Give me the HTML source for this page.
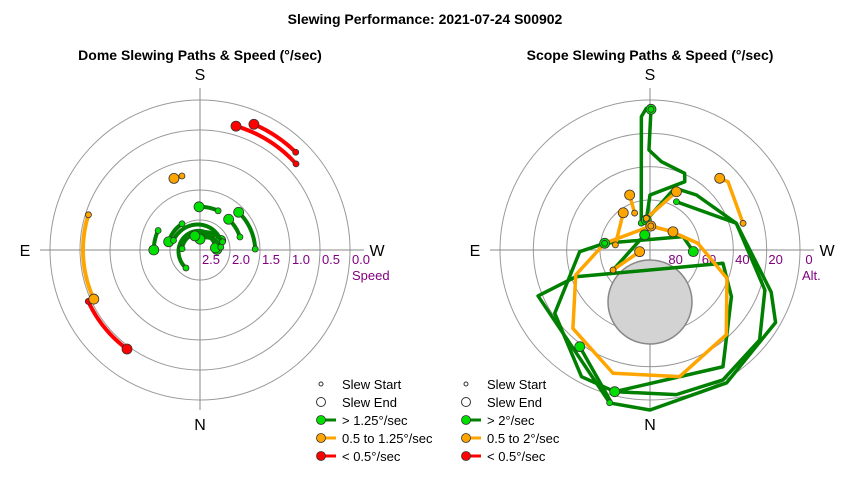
<!DOCTYPE html>
<html><head><meta charset="utf-8"><style>
body{margin:0;background:#fff}
svg{display:block;font-family:"Liberation Sans",Arial,sans-serif}
</style></head><body>
<svg id="chart" width="850" height="480" viewBox="0 0 850 480">
<rect width="850" height="480" fill="#fff"/>
<text x="425" y="24" text-anchor="middle" font-size="14" font-weight="bold">Slewing Performance: 2021-07-24 S00902</text>
<text x="200" y="60" text-anchor="middle" font-size="14" font-weight="bold">Dome Slewing Paths &amp; Speed (°/sec)</text>
<text x="650" y="60" text-anchor="middle" font-size="14" font-weight="bold">Scope Slewing Paths &amp; Speed (°/sec)</text>
<g id="dome"></g>
<g id="scope"></g>
<g id="legends"></g>
</svg>
<script>
// ---- Dome data: azimuth start/end (deg), speed start/end (deg/sec), category ----
const domeAzStart = [228.1,224.4,65.3, 107.5,166.3, 204.8,269,252,115,38,145.6,110,94,262,250];
const domeAzEnd   = [196.2,203.2,36.4, 65.2,160, 178.7,225.7,223,90,268,104.7,245,262,180,160];
const domeSpStart = [0.85,0.72,0.95, 1.05,1.73, 2.28,2.08,2.3,2.23,2.62,2.47,2.53,2.7,2.65,2.6];
const domeSpEnd   = [0.85,0.72,0.95, 1.05,1.73, 2.28,2.1,2.3,2.23,2.72,2.46,2.62,2.74,2.82,2.75];
const domeCat     = ['r','r','r','o','o','g','g','g','g','g','g','g','g','g','g'];
const domeRingSpeeds = [2.5,2.0,1.5,1.0,0.5];
const domeTickLabels = ['2.5','2.0','1.5','1.0','0.5','0.0'];
const domeTickSpeeds = [2.5,2.0,1.5,1.0,0.5,0.0];

// ---- Scope data: path azimuths & altitudes (deg), category ----
const scopeAz = [
 [162,176.3,178.5,180.4],
 [180.4,179.4,187.4,204.3,207,180,173],
 [173,201.8,220.2,252.8,289.2,309.4,330.7,349.7,14,28.4,56.4,88.6,98.4],
 [208.7,252.8,289.2,300,330,360,14,36],
 [14.8,67.7,70.2,280.3,299.8,328,14],
 [98.4,248,272],
 [61.6,160.5],
 [182,98.4,71.4,44.5,16.7,346.8,318,290.2,262,229.5,182],
 [254,228.8,224.2],
 [173.5,204.4],
 [157.4,159.7],
 [98.4,144.3],
 [182,231.5],
 [61.6,81]
];
const scopeAlt = [
 [73,9.8,5,5.6],
 [5.6,30,36.6,39.5,44,57,71.9],
 [71.9,50,46.8,35.8,17,4.9,0.6,1.8,2.4,3.6,21.4,47.8,62.5],
 [57,35.8,13,3,-2,-6,-4.8,18.3],
 [-4.8,17.4,42.6,45.5,33.7,7.4,2.4],
 [62.5,68.6,64],
 [64.8,80.4],
 [75.6,62.5,43,24,12.8,12,21.6,40.8,61,73,75.6],
 [31.9,27.8,30],
 [70.9,51.6],
 [66,54.8],
 [69,62.5],
 [75.6,72.4],
 [64.8,83.7]
];
const scopeCat = ['g','g','g','g','g','g','g','o','o','o','o','o','o','o'];
const scopeRingAlts = [60,40,20,0];
const scopeTickLabels = ['80','60','40','20','0'];
const scopeTickAlts = [80,60,40,20,0];

const NS='http://www.w3.org/2000/svg';
const lineCol={g:'#008000',o:'#FFA500',r:'#FF0000'};
const dotCol={g:'#00E000',o:'#FFA500',r:'#FF0000'};
function mk(parent,tag,attrs){const e=document.createElementNS(NS,tag);for(const k in attrs)e.setAttribute(k,attrs[k]);parent.appendChild(e);return e;}

function polarXY(cx,cy,az,r){const a=az*Math.PI/180;return [cx-r*Math.sin(a),cy+r*Math.cos(a)];}

function drawFrame(g,cx,cy,rings,outerR){
  rings.forEach(r=>{const c=mk(g,'circle',{cx:cx,cy:cy,r:r,fill:'none',stroke:'#999','stroke-width':1});
    
    });
  const h=mk(g,'line',{x1:cx-outerR-10,y1:cy,x2:cx+outerR+14,y2:cy,stroke:'#888'});
  
  
  const v=mk(g,'line',{x1:cx,y1:cy-outerR-12,x2:cx,y2:cy+outerR+10,stroke:'#888'});
  
  
  [['S',cx,cy-170],['N',cx,cy+180],['E',cx-175,cy+6],['W',cx+177,cy+6]].forEach(d=>{
    const t=mk(g,'text',{x:d[1],y:d[2],'text-anchor':'middle','font-size':16});t.textContent=d[0];
    
    });
}

// ---- Dome ----
(function(){
  const g=document.getElementById('dome');const cx=200,cy=250;
  const rOf=s=>(3-s)*60;
  drawFrame(g,cx,cy,domeRingSpeeds.map(rOf),150);
  domeTickLabels.forEach((l,i)=>{const t=mk(g,'text',{x:cx+rOf(domeTickSpeeds[i])-19,y:cy+14,'text-anchor':'middle','font-size':13,fill:'#800080'});t.textContent=l;
    
    });
  const sp=mk(g,'text',{x:cx+152,y:cy+30,'font-size':13,fill:'#800080'});sp.textContent='Speed';
  
  
  domeAzStart.forEach((a0,i)=>{
    const a1=domeAzEnd[i],r0=rOf(domeSpStart[i]),r1=rOf(domeSpEnd[i]);const n=30;let pts=[];
    for(let k=0;k<=n;k++){const t=k/n;pts.push(polarXY(cx,cy,a0+(a1-a0)*t,r0+(r1-r0)*t).join(','));}
    const c=domeCat[i];
    const p=mk(g,'polyline',{points:pts.join(' '),fill:'none',stroke:lineCol[c],'stroke-width':4,'stroke-linecap':'round'});
    
    
    const s=polarXY(cx,cy,a0,r0),e=polarXY(cx,cy,a1,r1);
    const sd=mk(g,'circle',{cx:s[0],cy:s[1],r:3,fill:dotCol[c],stroke:'#333','stroke-width':0.8});
    
    
    const ed=mk(g,'circle',{cx:e[0],cy:e[1],r:5,fill:dotCol[c],stroke:'#333','stroke-width':0.8});
    
    
  });
})();

// ---- Scope ----
(function(){
  const g=document.getElementById('scope');const cx=650,cy=250;
  const rOf=a=>(90-a)/90*150;
  drawFrame(g,cx,cy,scopeRingAlts.map(rOf),150);
  const z=mk(g,'circle',{cx:650,cy:302,r:42,fill:'#d3d3d3',stroke:'#888','stroke-width':1.5});
  
  
  scopeTickLabels.forEach((l,i)=>{const t=mk(g,'text',{x:cx+rOf(scopeTickAlts[i])+9,y:cy+14,'text-anchor':'middle','font-size':13,fill:'#800080'});t.textContent=l;
    
    });
  const al=mk(g,'text',{x:cx+152,y:cy+30,'font-size':13,fill:'#800080'});al.textContent='Alt.';
  
  
  scopeAz.forEach((azs,i)=>{
    const alts=scopeAlt[i],c=scopeCat[i];
    const pts=azs.map((a,k)=>polarXY(cx,cy,a,rOf(alts[k])));
    const p=mk(g,'polyline',{points:pts.map(q=>q.join(',')).join(' '),fill:'none',stroke:lineCol[c],'stroke-width':3.5,'stroke-linejoin':'round'});
    
    
  });
  scopeAz.forEach((azs,i)=>{
    const alts=scopeAlt[i],c=scopeCat[i];
    const s=polarXY(cx,cy,azs[0],rOf(alts[0])),e=polarXY(cx,cy,azs[azs.length-1],rOf(alts[alts.length-1]));
    const sd=mk(g,'circle',{cx:s[0],cy:s[1],r:3,fill:dotCol[c],stroke:'#333','stroke-width':0.8});
    
    
    const ed=mk(g,'circle',{cx:e[0],cy:e[1],r:5,fill:dotCol[c],stroke:'#333','stroke-width':0.8});
    
    
  });
})();

// ---- Legends ----
(function(){
  const g=document.getElementById('legends');
  const sets=[[321,['> 1.25°/sec','0.5 to 1.25°/sec','< 0.5°/sec']],[466,['> 2°/sec','0.5 to 2°/sec','< 0.5°/sec']]];
  sets.forEach(([x,labels])=>{
    const rows=[384,402,420,438,456];
    const names=['Slew Start','Slew End'].concat(labels);
    const cats=[null,null,'g','o','r'];
    rows.forEach((y,i)=>{
      if(i===0){const c=mk(g,'circle',{cx:x,cy:y,r:2,fill:'#fff',stroke:'#333'});}
      else if(i===1){const c=mk(g,'circle',{cx:x,cy:y,r:4.5,fill:'#fff',stroke:'#333'});}
      else{const l=mk(g,'line',{x1:x,y1:y,x2:x+15,y2:y,stroke:lineCol[cats[i]],'stroke-width':3});
        const c=mk(g,'circle',{cx:x,cy:y,r:4.5,fill:dotCol[cats[i]],stroke:'#333','stroke-width':0.8});}
      const t=mk(g,'text',{x:x+21,y:y+5,'font-size':13});t.textContent=names[i];
      
      
    });
  });
})();
</script>
</body></html>
